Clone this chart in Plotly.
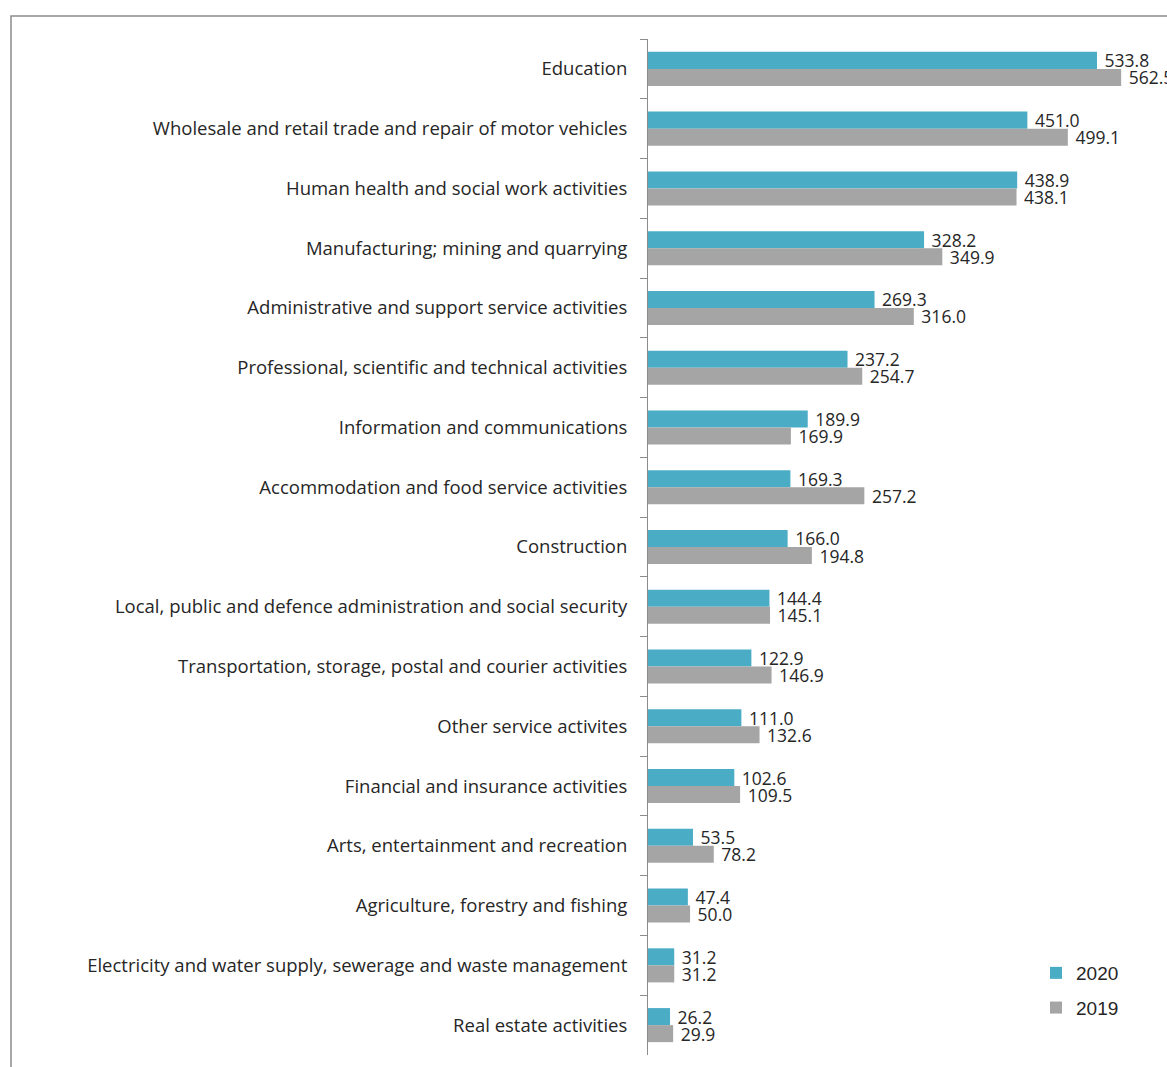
import plotly.graph_objects as go

categories = [
    "Education",
    "Wholesale and retail trade and repair of motor vehicles",
    "Human health and social work activities",
    "Manufacturing; mining and quarrying",
    "Administrative and support service activities",
    "Professional, scientific and technical activities",
    "Information and communications",
    "Accommodation and food service activities",
    "Construction",
    "Local, public and defence administration and social security",
    "Transportation, storage, postal and courier activities",
    "Other service activites",
    "Financial and insurance activities",
    "Arts, entertainment and recreation",
    "Agriculture, forestry and fishing",
    "Electricity and water supply, sewerage and waste management",
    "Real estate activities",
]
values_2020 = [533.8, 451.0, 438.9, 328.2, 269.3, 237.2, 189.9, 169.3, 166.0,
               144.4, 122.9, 111.0, 102.6, 53.5, 47.4, 31.2, 26.2]
values_2019 = [562.5, 499.1, 438.1, 349.9, 316.0, 254.7, 169.9, 257.2, 194.8,
               145.1, 146.9, 132.6, 109.5, 78.2, 50.0, 31.2, 29.9]

TEAL = "#4BACC6"
GRAY = "#A5A5A5"
FONT = "Open Sans"

fig = go.Figure()
for name, vals, col in [("2020", values_2020, TEAL), ("2019", values_2019, GRAY)]:
    fig.add_trace(go.Bar(
        y=categories, x=vals, name=name, orientation="h", legendgroup=name,
        marker=dict(color=col, line=dict(width=0)),
        texttemplate="\u00a0%{x:.1f}", textposition="outside",
        textfont=dict(family=FONT, size=17.5, color="#262626"),
        cliponaxis=False, constraintext="none",
    ))

W, H = 1167, 1067
L, R, T, B = 648, 0, 39, 12
pw = W - L - R
ph = H - T - B

fig.update_layout(
    width=W, height=H,
    margin=dict(l=L, r=R, t=T, b=B, pad=0),
    paper_bgcolor="white", plot_bgcolor="white",
    barmode="group", bargap=0.43, bargroupgap=0,
    showlegend=True,
    legend=dict(x=(1036 - L) / pw, y=(H - B - 954) / ph, xanchor="left", yanchor="top",
                font=dict(family="Liberation Sans", size=19, color="#262626"),
                itemwidth=30, tracegroupgap=7, bgcolor="rgba(0,0,0,0)"),
    xaxis=dict(range=[0, 617], visible=False, showgrid=False, zeroline=False),
    yaxis=dict(type="category", autorange="reversed", showline=True,
               linecolor="#8c8c8c", linewidth=1, ticks="outside", ticklen=7,
               tickcolor="#8c8c8c", tickson="boundaries", ticklabelstandoff=16,
               tickfont=dict(family=FONT, size=18.5, color="#262626"),
               showgrid=False),
    shapes=[dict(type="rect", xref="paper", yref="paper",
                 x0=(11 - L) / pw, x1=1.1, y0=-0.2, y1=(H - B - 16) / ph,
                 line=dict(color="#8c8c8c", width=1.5), fillcolor="rgba(0,0,0,0)",
                 layer="below")],
)

fig.write_html("out.html")
